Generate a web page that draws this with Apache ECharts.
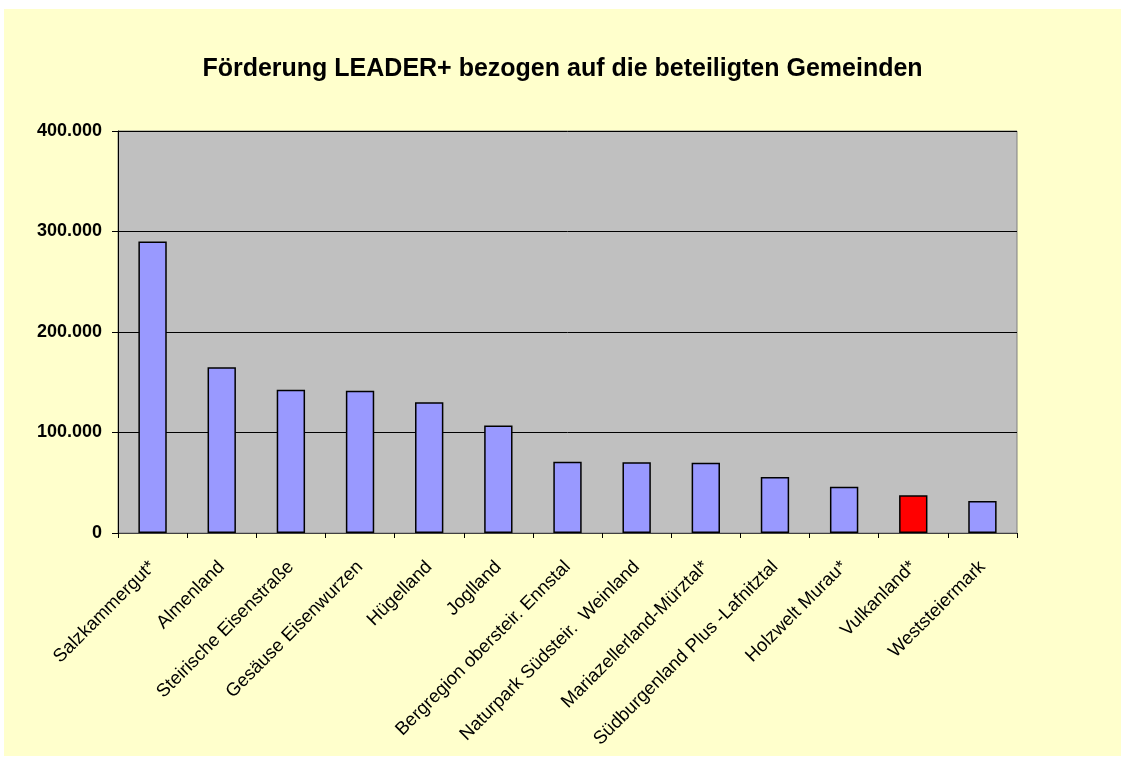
<!DOCTYPE html>
<html>
<head>
<meta charset="utf-8">
<script src="https://cdn.jsdelivr.net/npm/echarts@6/dist/echarts.min.js"></script>
<style>
  html, body { margin: 0; padding: 0; background: #ffffff; }
  #chart { position: absolute; left: 4px; top: 9px; width: 1117px; height: 747px; }
</style>
</head>
<body>
<div id="chart"></div>
<script>
// Regionen (Kategorien)
var regionen = [
  'Salzkammergut*', 'Almenland', 'Steirische Eisenstraße', 'Gesäuse Eisenwurzen',
  'Hügelland', 'Joglland', 'Bergregion obersteir. Ennstal', 'Naturpark Südsteir.  Weinland',
  'Mariazellerland-Mürztal*', 'Südburgenland Plus -Lafnitztal', 'Holzwelt Murau*',
  'Vulkanland*', 'Weststeiermark'
];
// Förderung je Region
var foerderung = [290000, 165000, 142500, 141500, 130000, 107000, 71000, 70500, 70000, 55800, 46000, 37500, 31800];
// hervorgehobene Region
var markiert = 'Vulkanland*';
var yTicks = [0, 100000, 200000, 300000, 400000];

var schrift = 'Arial, "Liberation Sans", sans-serif';

var chart = echarts.init(document.getElementById('chart'));

var option = {
  backgroundColor: '#FFFFCC',
  animation: false,
  title: {
    text: 'Förderung LEADER+ bezogen auf die beteiligten Gemeinden',
    left: 'center',
    top: 43,
    textStyle: { fontFamily: schrift, fontSize: 25, fontWeight: 'bold', color: '#000' }
  },
  grid: {
    left: 114, top: 122, right: 104, bottom: 223,
    show: true,
    backgroundColor: '#C0C0C0',
    borderColor: '#808080',
    borderWidth: 1
  },
  xAxis: {
    type: 'category',
    data: regionen,
    axisLine: { lineStyle: { color: '#404040', width: 1 } },
    axisTick: { show: true, inside: false, length: 5, lineStyle: { color: '#000' } },
    axisLabel: {
      rotate: 45,
      interval: 0,
      margin: 31,
      fontFamily: schrift,
      fontSize: 18.5,
      color: '#000'
    }
  },
  yAxis: {
    type: 'value',
    min: yTicks[0],
    max: yTicks[yTicks.length - 1],
    interval: 100000,
    axisLine: { show: true, lineStyle: { color: '#000', width: 1 } },
    axisTick: { show: true, length: 6, lineStyle: { color: '#000' } },
    splitLine: { show: true, lineStyle: { color: '#000', width: 1 } },
    axisLabel: {
      margin: 16,
      fontFamily: schrift,
      fontSize: 18,
      fontWeight: 'bold',
      color: '#000',
      formatter: function (v) {
        return v === 0 ? '0' : String(v).replace(/\B(?=(\d{3})+(?!\d))/g, '.');
      }
    }
  },
  series: [
    {
      type: 'bar',
      barWidth: '41%',
      data: foerderung.map(function (v, i) {
        return {
          value: v,
          itemStyle: { color: regionen[i] === markiert ? '#FF0000' : '#9999FF' }
        };
      }),
      itemStyle: { borderColor: '#000', borderWidth: 1.5 }
    }
  ]
};

chart.setOption(option);
</script>
</body>
</html>
